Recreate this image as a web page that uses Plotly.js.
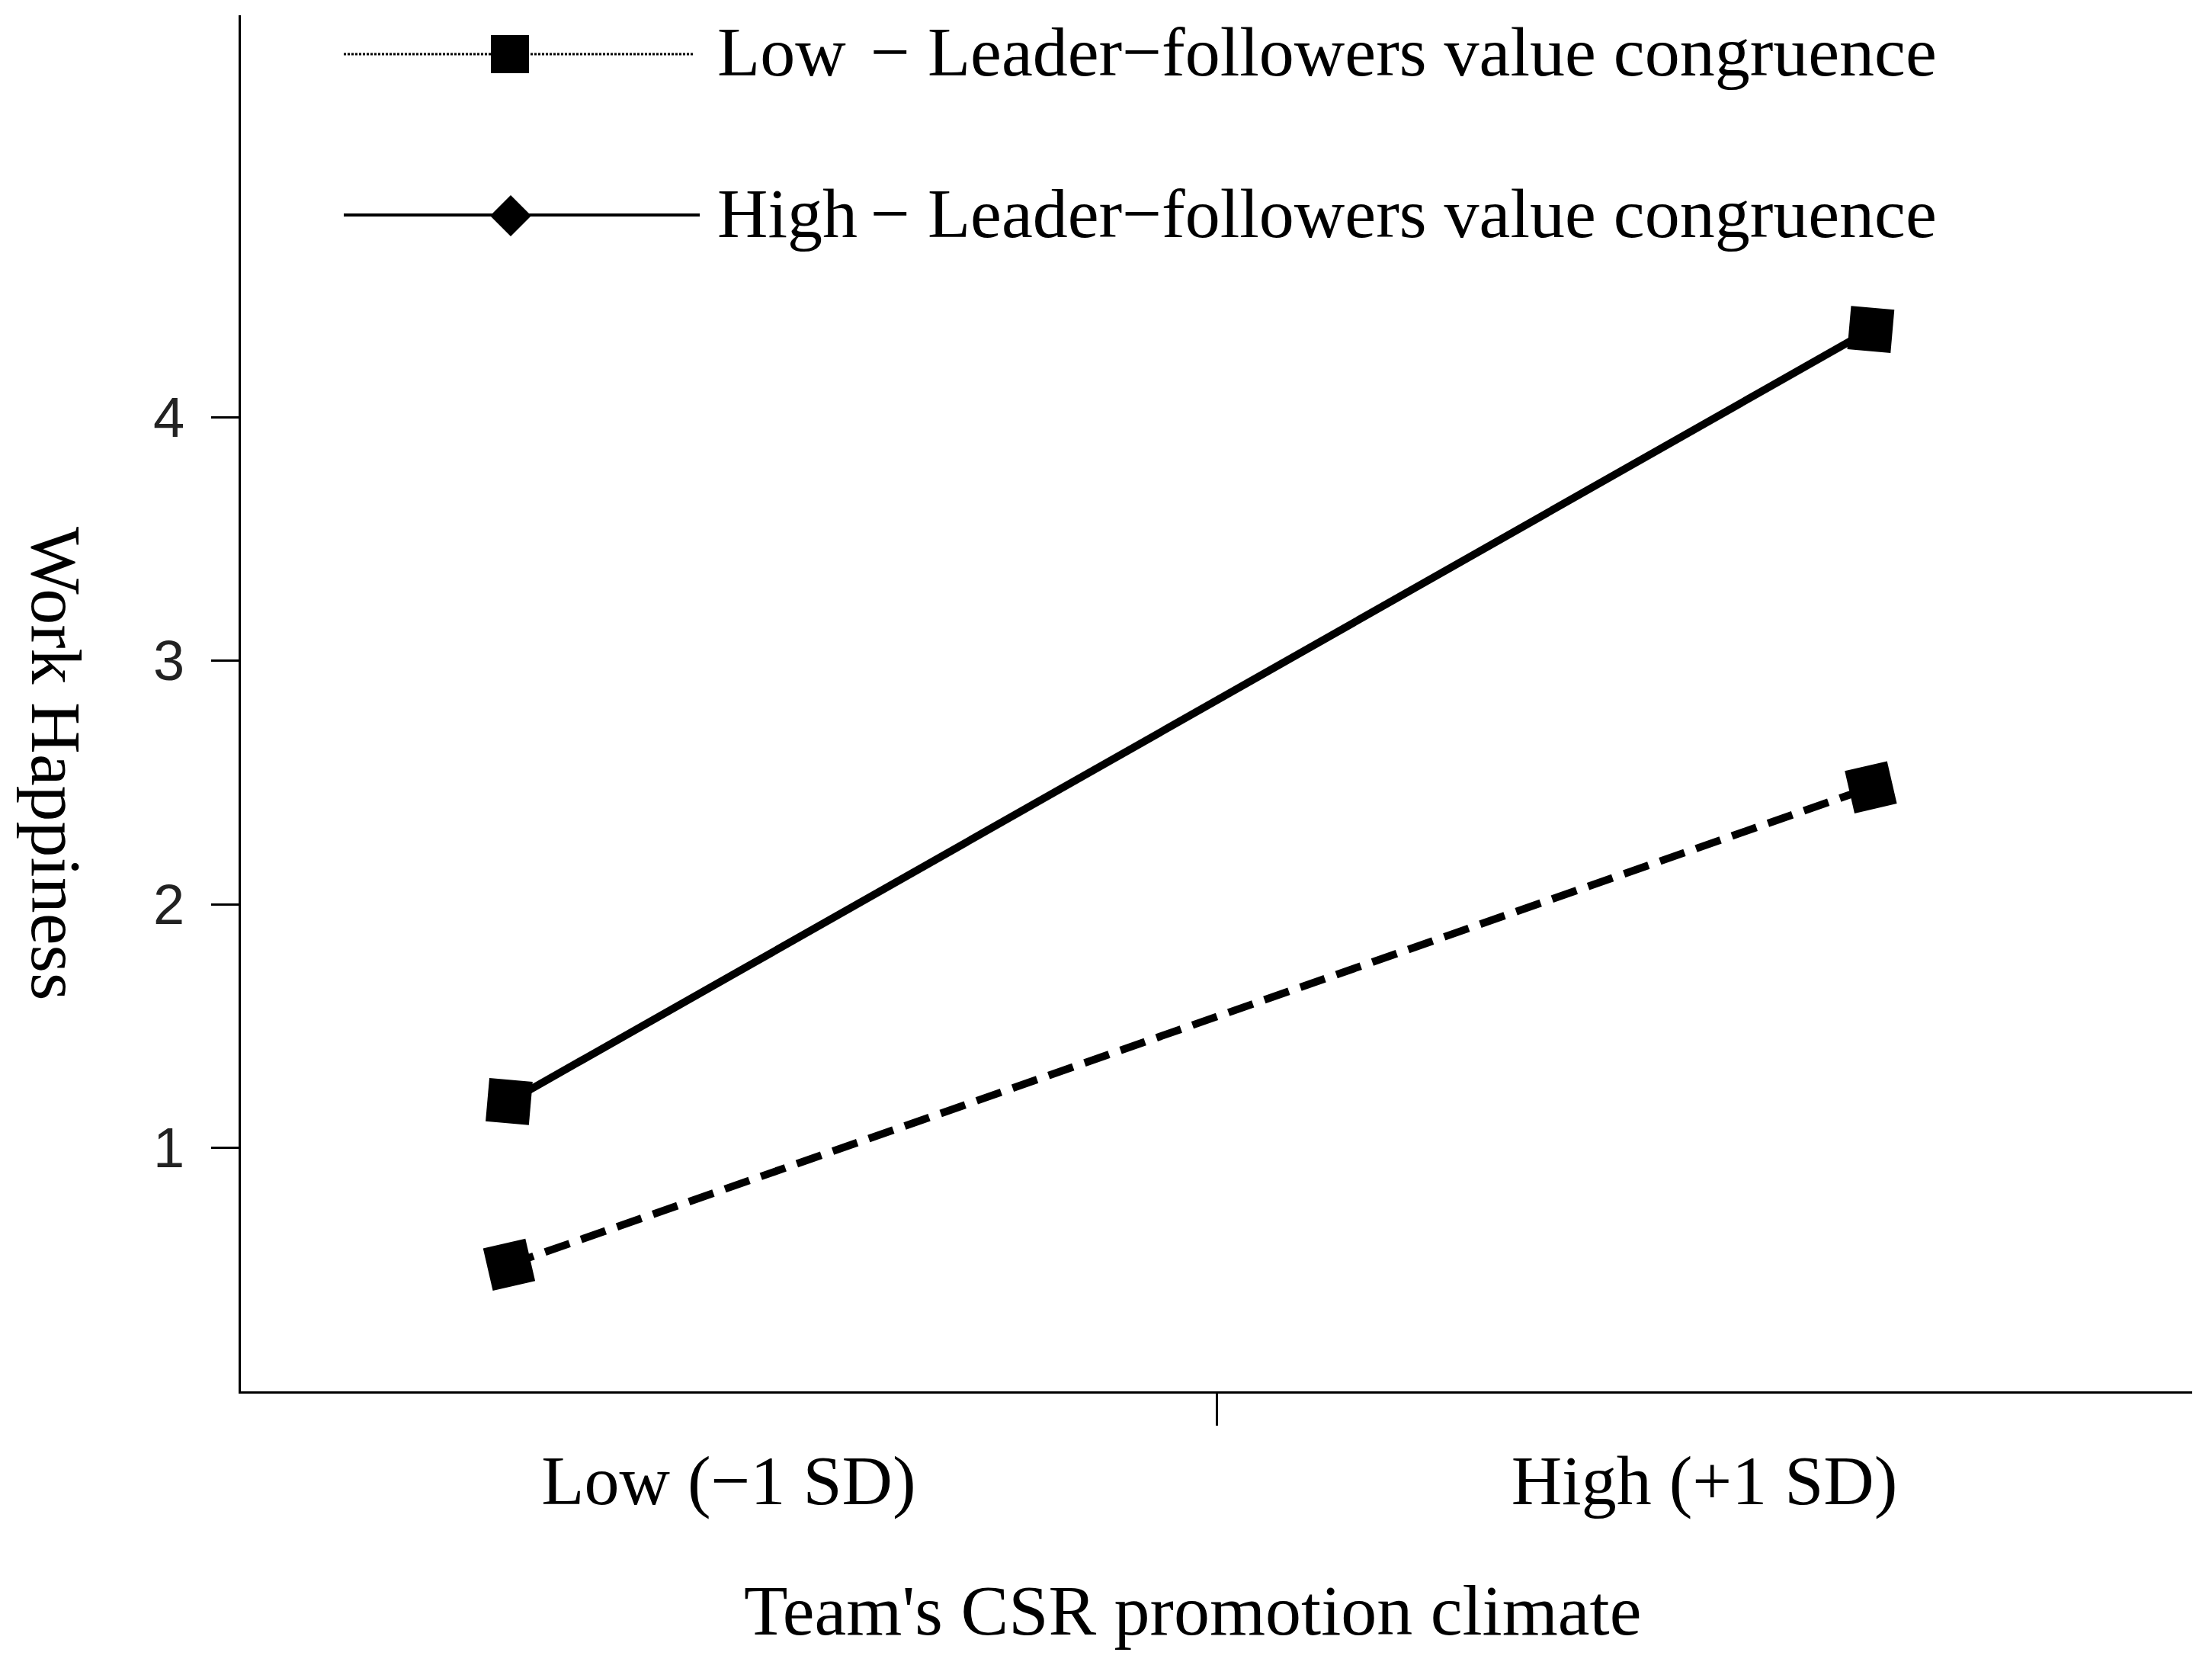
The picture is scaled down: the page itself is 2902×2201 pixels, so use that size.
<!DOCTYPE html>
<html lang="en">
<head>
    <meta charset="UTF-8">
    <title>Work Happiness interaction plot</title>
    <script src="https://cdn.plot.ly/plotly-3.0.1.min.js"></script>
    <style>
        body { margin: 0; background: #fff; }
        #chart { width: 2902px; height: 2201px; }
    </style>
</head>
<body>
<div id="chart"></div>
<script>
    // Data
    var climateLevels = ['Low (\u22121 SD)', 'High (+1 SD)'];   // x categories
    var climateX = [0, 1];                                      // -1 SD, +1 SD
    var lowCongruence = [0.52, 2.48];    // dashed line
    var highCongruence = [1.19, 4.36];   // solid line
    var seriesNames = ['Low', 'High'];
    var legendSuffix = '\u2212 Leader\u2212followers value congruence';
    var yTicks = [1, 2, 3, 4];

    // page geometry (px)
    var W = 2902, H = 2201;
    var M = { l: 316, r: 26, t: 20, b: 376 };
    var plotW = W - M.l - M.r, plotH = H - M.t - M.b;
    function px(x) { return (x - M.l) / plotW; }
    function py(y) { return (H - M.b - y) / plotH; }

    var xRange = [-0.197, 1.236];
    var yRange = [0, 5.65];
    var xSpan = xRange[1] - xRange[0];
    // category labels sit at quarter points of the axis, one tick in the middle
    var labelPos = [xRange[0] + 0.25 * xSpan, xRange[0] + 0.75 * xSpan];
    var midTick = xRange[0] + 0.5 * xSpan;

    var serif = 'Liberation Serif, Times New Roman, serif';

    var traces = [
        {
            x: climateX, y: lowCongruence, name: seriesNames[0],
            type: 'scatter', mode: 'lines+markers',
            line: { color: '#000', width: 10, dash: '34px,16px' },
            marker: { symbol: 'square', size: 57, color: '#000', angle: -13 }
        },
        {
            x: climateX, y: highCongruence, name: seriesNames[1],
            type: 'scatter', mode: 'lines+markers',
            line: { color: '#000', width: 10 },
            marker: { symbol: 'square', size: 57, color: '#000', angle: 5 }
        }
    ];

    // hand-drawn legend, as in the original figure
    var legendRows = [
        { y: 71, textY: 68, dash: '3px,2px', width: 3 },
        { y: 282, textY: 280, dash: 'solid', width: 4 }
    ];
    var shapes = [];
    var annotations = [];
    legendRows.forEach(function (row, i) {
        shapes.push({
            type: 'line', xref: 'paper', yref: 'paper',
            x0: px(451), x1: px(i === 0 ? 911 : 918), y0: py(row.y), y1: py(row.y),
            line: { color: '#000', width: row.width, dash: row.dash }
        });
        annotations.push({
            xref: 'paper', yref: 'paper', x: px(939), y: py(row.textY),
            xanchor: 'left', yanchor: 'middle', showarrow: false,
            text: seriesNames[i], font: { family: serif, size: 92, color: '#000' }
        });
        annotations.push({
            xref: 'paper', yref: 'paper', x: px(1140), y: py(row.textY),
            xanchor: 'left', yanchor: 'middle', showarrow: false,
            text: legendSuffix, font: { family: serif, size: 92, color: '#000' }
        });
    });
    // legend square
    shapes.push({
        type: 'rect', xref: 'paper', yref: 'paper',
        x0: px(644), x1: px(694), y0: py(96), y1: py(46),
        fillcolor: '#000', line: { width: 0 }
    });
    // legend diamond
    shapes.push({
        type: 'path', xref: 'paper', yref: 'paper',
        path: 'M' + px(643) + ',' + py(283) + ' L' + px(670) + ',' + py(256) +
              ' L' + px(697) + ',' + py(283) + ' L' + px(670) + ',' + py(310) + ' Z',
        fillcolor: '#000', line: { width: 0 }
    });

    // axis titles
    annotations.push({
        xref: 'paper', yref: 'paper', x: px(1564), y: py(2112),
        xanchor: 'center', yanchor: 'middle', showarrow: false,
        text: "Team's CSR promotion climate",
        font: { family: serif, size: 94, color: '#000' }
    });
    annotations.push({
        xref: 'paper', yref: 'paper', x: px(74), y: py(1002),
        xanchor: 'center', yanchor: 'middle', showarrow: false, textangle: 90,
        text: 'Work Happiness',
        font: { family: serif, size: 94, color: '#000' }
    });

    var layout = {
        width: W, height: H,
        margin: M,
        paper_bgcolor: '#fff', plot_bgcolor: '#fff',
        showlegend: false,
        xaxis: {
            range: xRange, showgrid: false, zeroline: false,
            showline: true, linecolor: '#000', linewidth: 3,
            tickmode: 'array', tickvals: labelPos, ticktext: climateLevels,
            ticks: '', ticklabelstandoff: 35,
            tickfont: { family: serif, size: 92, color: '#000' },
            minor: { tickmode: 'array', tickvals: [midTick], ticks: 'outside',
                     ticklen: 42, tickwidth: 3, tickcolor: '#000', showgrid: false }
        },
        yaxis: {
            range: yRange, showgrid: false, zeroline: false,
            showline: true, linecolor: '#000', linewidth: 3,
            tickmode: 'array', tickvals: yTicks,
            ticks: 'outside', ticklen: 36, tickwidth: 3, tickcolor: '#000',
            ticklabelstandoff: 20,
            tickfont: { family: 'Liberation Sans, Arial, sans-serif', size: 74, color: '#222' }
        },
        shapes: shapes,
        annotations: annotations
    };

    Plotly.newPlot('chart', traces, layout, { staticPlot: true });
</script>
</body>
</html>
